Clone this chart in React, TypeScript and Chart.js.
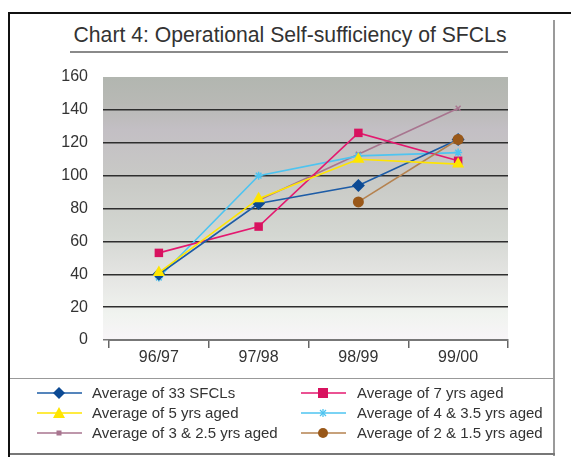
import React, { useEffect, useRef } from 'react';
import { Chart, registerables } from 'chart.js';

Chart.register(...registerables);

const categories = ['96/97', '97/98', '98/99', '99/00'];
const avg33 = [40, 83, 94, 122];
const avg7 = [53, 69, 126, 109];
const avg5 = [41, 86, 110, 107];
const avg4 = [38, 100, 112, 114];
const avg3 = [null, 85, 113, 141];
const avg2 = [null, null, 84, 122];
const yTicks = [0, 20, 40, 60, 80, 100, 120, 140, 160];

const FONT = '"Liberation Sans", Arial, Helvetica, sans-serif';

const series = [
  { label: 'Average of 33 SFCLs', data: avg33, line: '#1d5ca6', fill: '#0c4a94', style: 'rectRot', r: 6.5, order: 3 },
  { label: 'Average of 7 yrs aged', data: avg7, line: '#e4186f', fill: '#d8125f', style: 'rect', r: 6, order: 4 },
  { label: 'Average of 5 yrs aged', data: avg5, line: '#ffe500', fill: '#ffe500', style: 'triangle', r: 7, order: 1 },
  { label: 'Average of 4 & 3.5 yrs aged', data: avg4, line: '#4ec4f0', fill: '#4ec4f0', style: 'star', r: 4, order: 5 },
  { label: 'Average of 3 & 2.5 yrs aged', data: avg3, line: '#a8758f', fill: '#a8758f', style: 'crossRot', r: 3.5, order: 6 },
  { label: 'Average of 2 & 1.5 yrs aged', data: avg2, line: '#b5824f', fill: '#995819', style: 'circle', r: 5.5, order: 2 },
];

const bgPlugin = {
  id: 'plotBg',
  beforeDraw(chart: any) {
    const { ctx, chartArea } = chart;
    const { left, right, top, bottom } = chartArea;
    const g = ctx.createLinearGradient(0, top, 0, bottom);
    g.addColorStop(0, '#b2b6b0');
    g.addColorStop(0.1, '#b8b9b5');
    g.addColorStop(0.2, '#c3bfc4');
    g.addColorStop(0.4, '#c9cac6');
    g.addColorStop(0.6, '#d4d7d2');
    g.addColorStop(0.75, '#e4e4e2');
    g.addColorStop(0.9, '#f0f3ef');
    g.addColorStop(1, '#f8f5f8');
    ctx.save();
    ctx.fillStyle = g;
    ctx.fillRect(left - 6, top, right - left + 6, bottom - top);
    ctx.restore();
  },
};

function Sample({ s }: { s: any }) {
  const cx = 22;
  const cy = 6;
  let marker: any = null;
  if (s.style === 'rectRot') marker = <polygon points={`${cx},${cy - 6} ${cx + 6},${cy} ${cx},${cy + 6} ${cx - 6},${cy}`} fill={s.fill} />;
  else if (s.style === 'rect') marker = <rect x={cx - 5} y={cy - 5} width={10} height={10} fill={s.fill} />;
  else if (s.style === 'triangle') marker = <polygon points={`${cx},${cy - 6} ${cx + 6},${cy + 5} ${cx - 6},${cy + 5}`} fill={s.fill} />;
  else if (s.style === 'star') marker = <g stroke={s.fill} strokeWidth={1.3}><line x1={cx - 3} y1={cy - 3} x2={cx + 3} y2={cy + 3} /><line x1={cx - 3} y1={cy + 3} x2={cx + 3} y2={cy - 3} /><line x1={cx} y1={cy - 4} x2={cx} y2={cy + 4} /></g>;
  else if (s.style === 'crossRot') marker = <rect x={cx - 2.5} y={cy - 2.5} width={5} height={5} fill={s.fill} />;
  else marker = <circle cx={cx} cy={cy} r={5} fill={s.fill} />;
  return (
    <svg width={45} height={12} style={{ display: 'block' }}>
      <line x1={0} y1={cy} x2={45} y2={cy} stroke={s.line} strokeWidth={1.6} />
      {marker}
    </svg>
  );
}

export default function App() {
  const ref = useRef<HTMLCanvasElement | null>(null);

  useEffect(() => {
    if (!ref.current) return;
    const chart = new Chart(ref.current, {
      type: 'line',
      data: {
        labels: categories,
        datasets: series.map((s) => ({
          label: s.label,
          data: s.data as any,
          borderColor: s.line,
          backgroundColor: s.fill,
          pointBackgroundColor: s.fill,
          pointBorderColor: s.fill,
          pointStyle: s.style as any,
          pointRadius: s.r,
          pointBorderWidth: s.style === 'star' || s.style === 'crossRot' ? 1.5 : 0,
          borderWidth: 1.6,
          tension: 0,
          spanGaps: false,
          order: s.order,
        })),
      },
      options: {
        animation: false,
        responsive: false,
        devicePixelRatio: 1,
        layout: { padding: { left: 0, top: 77, right: 63, bottom: 87 } },
        plugins: {
          legend: { display: false },
          title: { display: false },
          tooltip: { enabled: false },
        },
        scales: {
          x: {
            offset: true,
            grid: {
              offset: true,
              drawOnChartArea: false,
              drawTicks: true,
              tickLength: 8,
              color: '#666',
              lineWidth: 1.5,
            },
            border: { display: true, color: '#777', width: 2 },
            ticks: {
              color: '#333',
              font: { family: FONT, size: 16 },
              padding: 0,
            },
            afterFit: (scale: any) => {
              scale.height = 30;
            },
          },
          y: {
            min: 0,
            max: 160,
            afterBuildTicks: (scale: any) => {
              scale.ticks = yTicks.map((v) => ({ value: v }));
            },
            grid: {
              drawTicks: true,
              tickLength: 6,
              color: (c: any) => (c.tick && c.tick.value === 160 ? 'rgba(0,0,0,0)' : c.tick && c.tick.value === 0 ? '#777' : '#2e2e2e'),
              lineWidth: 1.5,
            },
            border: { display: false },
            ticks: {
              color: '#333',
              font: { family: FONT, size: 16 },
              padding: 15,
            },
            afterFit: (scale: any) => {
              scale.width = 109;
            },
          },
        },
      },
      plugins: [bgPlugin],
    });
    return () => chart.destroy();
  }, []);

  const rows = [0, 1, 2];
  const rowY = [393, 413, 433];

  return (
    <div style={{ position: 'fixed', left: 0, top: 0, width: 571, height: 457, background: '#fff', overflow: 'hidden', fontFamily: FONT }}>
      <div style={{ position: 'absolute', left: 8, top: 12, width: 570, height: 460, borderTop: '2px solid #111', borderLeft: '2px solid #111' }} />
      <div style={{ position: 'absolute', left: 553, top: 20, width: 2, height: 436, background: '#9a9a9a' }} />
      <div style={{ position: 'absolute', left: 72, top: 23, width: 436, textAlign: 'center', fontSize: 21.2, color: '#333', lineHeight: '24px', whiteSpace: 'nowrap' }}>
        Chart 4: Operational Self-sufficiency of SFCLs
      </div>
      <div style={{ position: 'absolute', left: 70, top: 51, width: 438, height: 2, background: '#8a8a8a' }} />
      <canvas ref={ref} width={571} height={457} style={{ position: 'absolute', left: 0, top: 0, width: 571, height: 457 }} />
      <div style={{ position: 'absolute', left: 10, top: 378, width: 545, height: 1, background: '#999' }} />
      <div style={{ position: 'absolute', left: 10, top: 453, width: 545, height: 2, background: '#777' }} />
      {rows.map((r) => (
        <React.Fragment key={r}>
          <div style={{ position: 'absolute', left: 37, top: rowY[r] - 6 }}>
            <Sample s={series[r * 2]} />
          </div>
          <div style={{ position: 'absolute', left: 92, top: rowY[r] - 9, fontSize: 15, lineHeight: '18px', color: '#333', whiteSpace: 'nowrap' }}>
            {series[r * 2].label}
          </div>
          <div style={{ position: 'absolute', left: 301, top: rowY[r] - 6 }}>
            <Sample s={series[r * 2 + 1]} />
          </div>
          <div style={{ position: 'absolute', left: 357, top: rowY[r] - 9, fontSize: 15, lineHeight: '18px', color: '#333', whiteSpace: 'nowrap' }}>
            {series[r * 2 + 1].label}
          </div>
        </React.Fragment>
      ))}
    </div>
  );
}
